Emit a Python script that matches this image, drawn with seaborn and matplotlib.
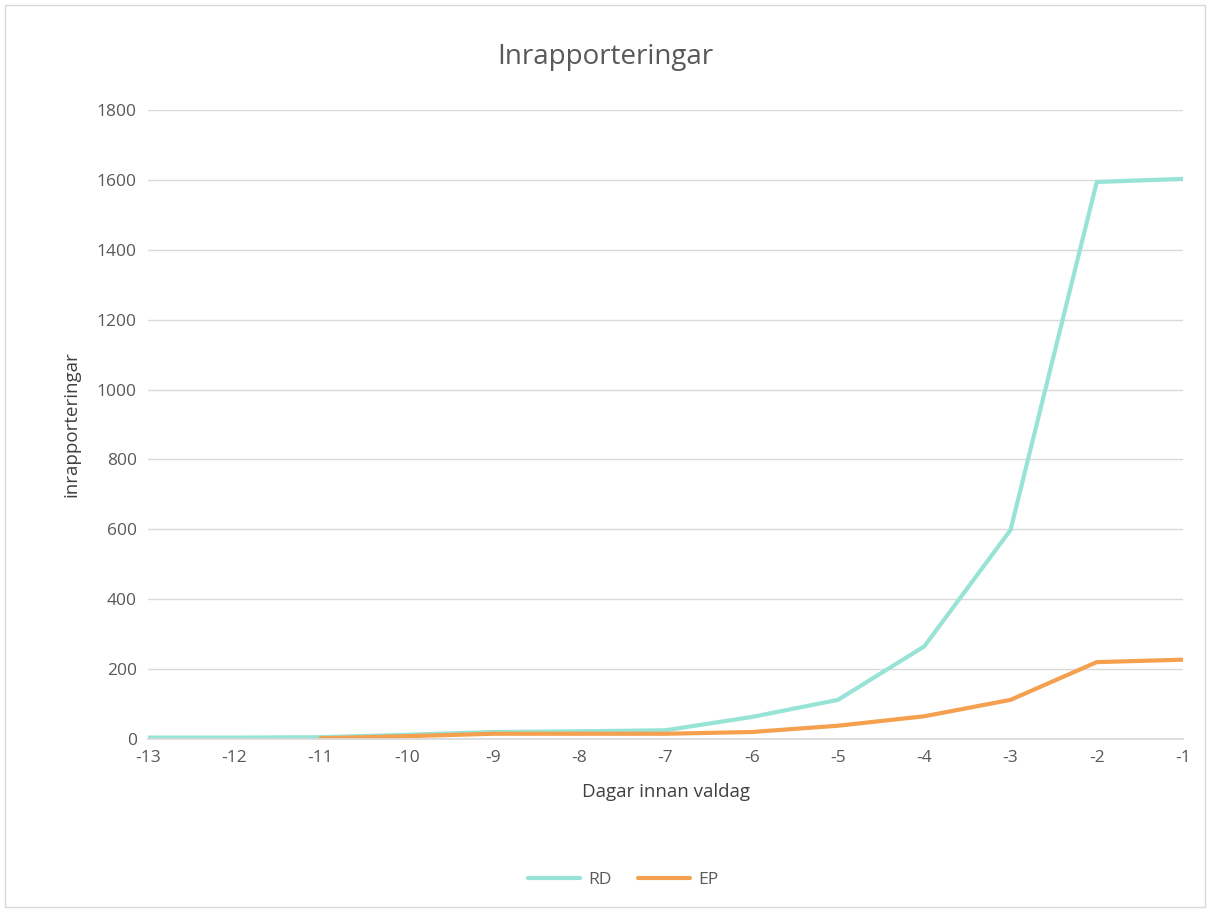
import matplotlib
matplotlib.use("Agg")
import matplotlib.pyplot as plt
import seaborn as sns
import pandas as pd
import numpy as np
from matplotlib.lines import Line2D

days_rd = [-13, -12, -11, -10, -9, -8, -7, -6, -5, -4, -3, -2, -1]
rd = [4, 4, 5, 12, 20, 22, 25, 63, 112, 265, 598, 1594, 1603]
days_ep = [-11, -10, -9, -8, -7, -6, -5, -4, -3, -2, -1]
ep = [2, 8, 15, 15, 15, 20, 38, 65, 112, 220, 227]
series = ["RD", "EP"]
colors = ["#97e3d5", "#f5a04e"]
title = "Inrapporteringar"
xlabel = "Dagar innan valdag"
ylabel = "inrapporteringar"

df = pd.concat([
    pd.DataFrame({"dag": days_rd, "värde": rd, "serie": "RD"}),
    pd.DataFrame({"dag": days_ep, "värde": ep, "serie": "EP"}),
])

sns.set_theme(style="white")
plt.rcParams["font.family"] = ["Open Sans", "DejaVu Sans"]
plt.rcParams["axes.unicode_minus"] = False

fig = plt.figure(figsize=(12.1, 9.11), dpi=100)
ax = fig.add_axes([148 / 1210, 1 - 739 / 911, (1183 - 148) / 1210, (739 - 110) / 911])

sns.lineplot(data=df, x="dag", y="värde", hue="serie", hue_order=series,
             palette=dict(zip(series, colors)), linewidth=3, ax=ax, legend=False)

ax.set_xlim(-13, -1)
ax.set_ylim(0, 1800)
ax.set_xticks(range(-13, 0))
ax.set_yticks(range(0, 1801, 200))
ax.tick_params(axis="both", labelsize=12.5, colors="#595959", length=0, pad=8)
ax.grid(axis="y", color="#d9d9d9", linewidth=1)
ax.set_axisbelow(True)
for s in ["top", "right", "left"]:
    ax.spines[s].set_visible(False)
ax.spines["bottom"].set_color("#d9d9d9")

ax.set_xlabel(xlabel, fontsize=13.5, color="#404040", labelpad=12)
ax.set_ylabel(ylabel, fontsize=13.5, color="#404040", labelpad=12)
fig.text(0.5, 1 - 57 / 911, title, ha="center", va="center", fontsize=20, color="#595959")

handles = [Line2D([0], [0], color=c, lw=3) for c in colors]
fig.legend(handles, series, loc="center", bbox_to_anchor=(0.515, 1 - 880 / 911), ncol=2,
           frameon=False, fontsize=12.5, labelcolor="#595959", handlelength=3.0,
           columnspacing=1.5, handletextpad=0.5)

border = plt.Rectangle((0.004, 0.004), 0.992, 0.99, transform=fig.transFigure, fill=False,
                       edgecolor="#d9d9d9", linewidth=1)
fig.patches.append(border)

fig.savefig("out.png", dpi=100, facecolor="white")
